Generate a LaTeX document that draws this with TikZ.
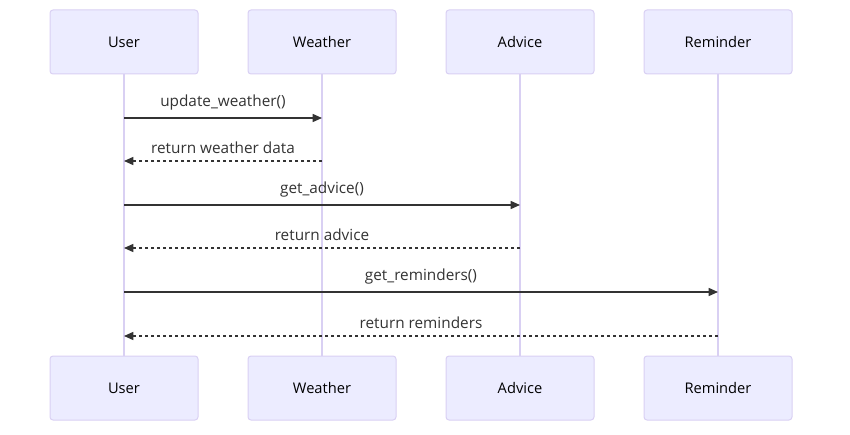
\documentclass[tikz,border=0pt]{standalone}
\usepackage{fontspec}
\setmainfont{Open Sans}
\usepackage{tikz}
\usetikzlibrary{arrows.meta}
\definecolor{actorfill}{HTML}{ECECFF}
\definecolor{actorline}{HTML}{D9D0F3}
\definecolor{msgline}{HTML}{333333}

\tikzset{
  actor/.style={draw=actorline, fill=actorfill, line width=0.75pt, rounded corners=2.25pt,
    minimum width=111pt, minimum height=48pt, font=\fontsize{11}{13}\selectfont, text=black},
  lifeline/.style={draw=actorline, line width=1pt},
  msg/.style={draw=msgline, line width=1.1pt, -{Triangle[length=7pt,width=6pt]}},
  reply/.style={msg, dash pattern=on 2.25pt off 2.25pt},
  msglabel/.style={font=\fontsize{11.5}{13}\selectfont, text=msgline, inner sep=0pt}
}

\begin{document}
\begin{tikzpicture}
    [x=0.75pt,y=-0.75pt]
    \useasboundingbox (0,0) rectangle (850,435);

    % actors, top and bottom
    \node[actor] (userT)     at (124,42)  {User};
    \node[actor] (weatherT)  at (322,42)  {Weather};
    \node[actor] (adviceT)   at (520,42)  {Advice};
    \node[actor] (reminderT) at (718,42)  {Reminder};
    \node[actor] (userB)     at (124,388) {User};
    \node[actor] (weatherB)  at (322,388) {Weather};
    \node[actor] (adviceB)   at (520,388) {Advice};
    \node[actor] (reminderB) at (718,388) {Reminder};

    % lifelines
    \draw[lifeline] (userT) -- (userB);
    \draw[lifeline] (weatherT) -- (weatherB);
    \draw[lifeline] (adviceT) -- (adviceB);
    \draw[lifeline] (reminderT) -- (reminderB);

    % message ends on the lifelines
    \coordinate (u1) at (124,118);
    \coordinate (w1) at (322,118);
    \coordinate (u2) at (124,161);
    \coordinate (w2) at (322,161);
    \coordinate (u3) at (124,205);
    \coordinate (a3) at (520,205);
    \coordinate (u4) at (124,248);
    \coordinate (a4) at (520,248);
    \coordinate (u5) at (124,292);
    \coordinate (r5) at (718,292);
    \coordinate (u6) at (124,336);
    \coordinate (r6) at (718,336);

    % messages
    \draw[msg]   (u1) -- node[msglabel, above=5pt] {update\_weather()} (w1);
    \draw[reply] (w2) -- node[msglabel, above=5pt] {return weather data} (u2);
    \draw[msg]   (u3) -- node[msglabel, above=5pt] {get\_advice()} (a3);
    \draw[reply] (a4) -- node[msglabel, above=5pt] {return advice} (u4);
    \draw[msg]   (u5) -- node[msglabel, above=5pt] {get\_reminders()} (r5);
    \draw[reply] (r6) -- node[msglabel, above=5pt] {return reminders} (u6);
  \end{tikzpicture}
\end{document}
